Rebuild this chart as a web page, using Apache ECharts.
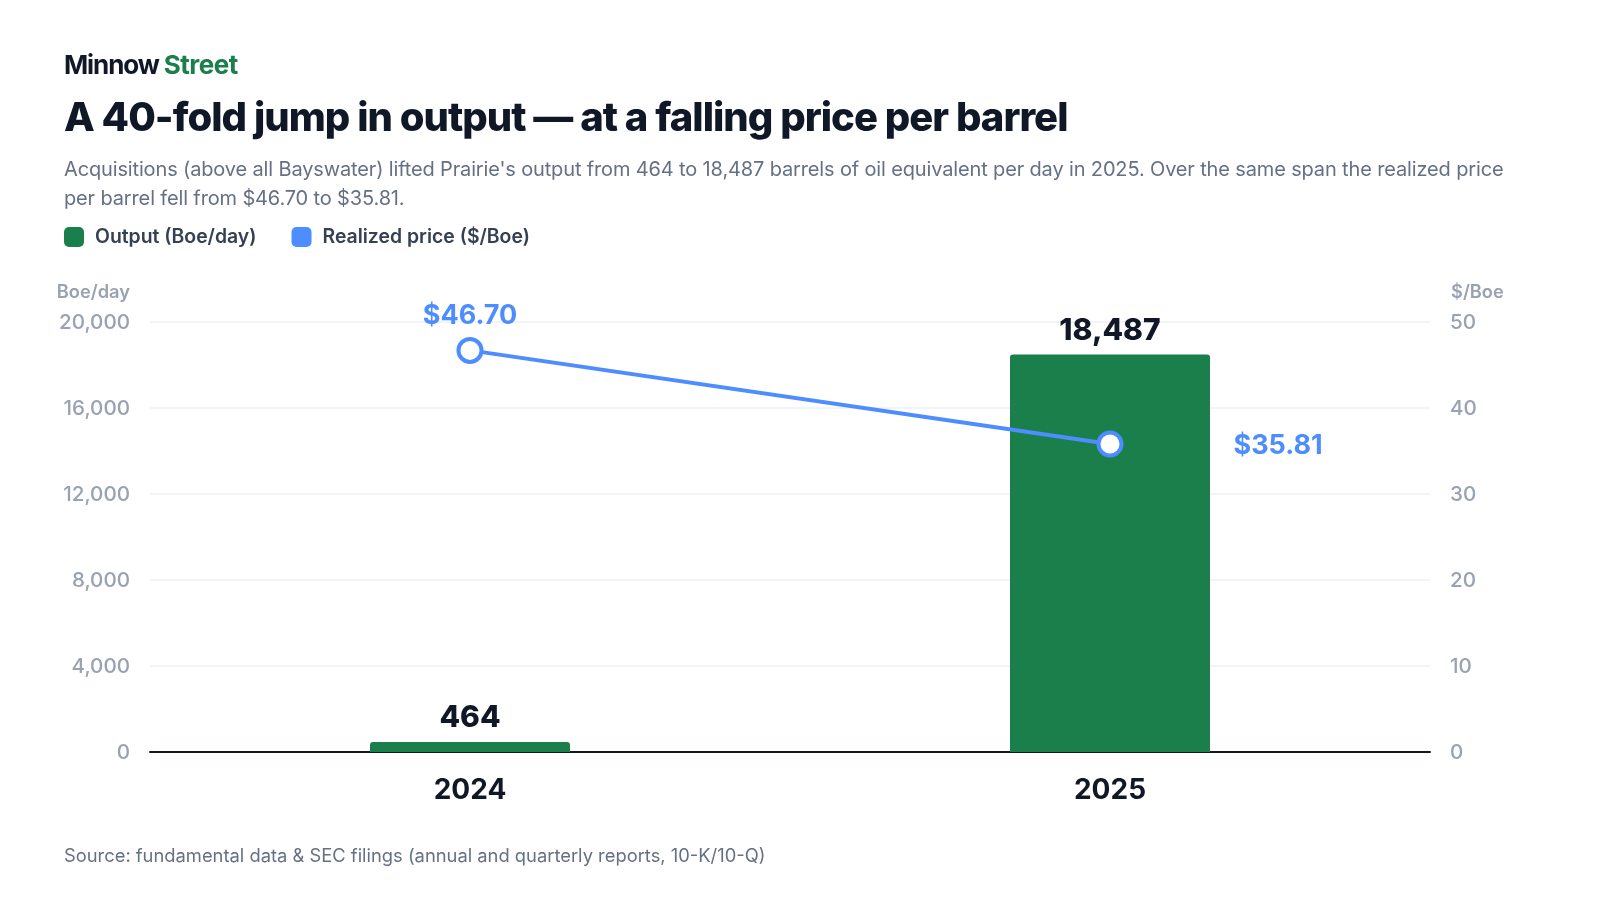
<!DOCTYPE html>
<html><head><meta charset="utf-8">
<script src="https://cdn.jsdelivr.net/npm/echarts@6/dist/echarts.min.js"></script>
<style>
html,body{margin:0;padding:0;background:#fff;width:1600px;height:900px;overflow:hidden;font-family:Inter,sans-serif}
#chart{position:absolute;left:0;top:0;width:1600px;height:900px}
.t{position:absolute;left:64px;white-space:nowrap}
#brand{top:49px;font-size:26px;font-weight:700;letter-spacing:-1.1px;line-height:32px;color:#101828}
#brand span{color:#1a7f4b;letter-spacing:-0.5px}
#title{top:92px;font-size:40px;font-weight:800;letter-spacing:-0.97px;line-height:50px;color:#101828}
#sub{top:155px;width:1460px;white-space:normal;font-size:20px;letter-spacing:-0.145px;line-height:29px;color:#667085}
</style></head><body>
<div id="chart"></div>
<div class="t" id="brand">Minnow <span>Street</span></div>
<div class="t" id="title">A 40-fold jump in output — at a falling price per barrel</div>
<div class="t" id="sub">Acquisitions (above all Bayswater) lifted Prairie's output from 464 to 18,487 barrels of oil equivalent per day in 2025. Over the same span the realized price per barrel fell from $46.70 to $35.81.</div>
<script>
const categories = ['2024', '2025'];
const output = [464, 18487];
const price = [46.70, 35.81];
const outputName = 'Output (Boe/day)';
const priceName = 'Realized price ($/Boe)';
const sourceText = 'Source: fundamental data & SEC filings (annual and quarterly reports, 10-K/10-Q)';
const GREEN = '#1a7f4b', BLUE = '#4d8dff', INK = '#101828', MUTED = '#98a2b3';
const font = 'Inter';
const tickRich = {n: {color: MUTED, fontFamily: font, fontSize: 20.6, fontWeight: 500, padding: [2, 0, 0, 0]}};
const chart = echarts.init(document.getElementById('chart'));
chart.setOption({
  animation: false,
  textStyle: {fontFamily: font},
  legend: {
    left: 64, top: 227, padding: 0, itemWidth: 20, itemHeight: 20, itemGap: 35,
    icon: 'roundRect',
    textStyle: {fontFamily: font, fontSize: 19.4, fontWeight: 600, color: '#344054', padding: [0, 0, 0, 6]},
    data: [
      {name: outputName, itemStyle: {color: GREEN, borderWidth: 0}},
      {name: priceName, itemStyle: {color: BLUE, borderWidth: 0}}
    ]
  },
  graphic: [{
    type: 'text', left: 64, top: 847,
    style: {text: sourceText, fontFamily: font, fontSize: 18.35, fill: '#667085'}
  }],
  grid: {left: 150, right: 170, top: 322, bottom: 148, containLabel: false},
  xAxis: {
    type: 'category', data: categories,
    axisLine: {lineStyle: {color: INK, width: 2}},
    axisTick: {show: false},
    axisLabel: {color: INK, fontFamily: font, fontSize: 28, fontWeight: 700, margin: 25}
  },
  yAxis: [{
    type: 'value', min: 0, max: 20000, interval: 4000,
    name: 'Boe/day', nameLocation: 'end', nameGap: 20,
    nameTextStyle: {color: MUTED, fontFamily: font, fontSize: 18.3, fontWeight: 600, align: 'right', padding: [0, 20, 0, 0]},
    axisLine: {show: false}, axisTick: {show: false},
    axisLabel: {margin: 20, rich: tickRich, formatter: v => '{n|' + v.toLocaleString('en-US') + '}'},
    splitLine: {lineStyle: {color: '#f2f4f7', width: 2}}
  }, {
    type: 'value', min: 0, max: 50, interval: 10,
    name: '$/Boe', nameLocation: 'end', nameGap: 20,
    nameTextStyle: {color: MUTED, fontFamily: font, fontSize: 18.3, fontWeight: 600, align: 'left', padding: [0, 0, 0, 21]},
    axisLine: {show: false}, axisTick: {show: false},
    axisLabel: {margin: 20, rich: tickRich, formatter: v => '{n|' + v + '}'},
    splitLine: {show: false}
  }],
  series: [{
    name: outputName, type: 'bar', yAxisIndex: 0, data: output, barWidth: 200,
    itemStyle: {color: GREEN, borderRadius: [3, 3, 0, 0]},
    label: {show: true, position: 'top', distance: 9, color: INK, fontFamily: font, fontSize: 30, fontWeight: 800,
      formatter: p => p.value.toLocaleString('en-US')}
  }, {
    name: priceName, type: 'line', yAxisIndex: 1, z: 5,
    lineStyle: {color: BLUE, width: 4},
    itemStyle: {color: '#fff', borderColor: BLUE, borderWidth: 4},
    symbol: 'circle', symbolSize: 23,
    label: {show: true, color: BLUE, fontFamily: font, fontSize: 27, fontWeight: 700,
      formatter: p => '$' + p.value.toFixed(2)},
    data: [
      {value: price[0], label: {position: 'top', distance: 8}},
      {value: price[1], label: {position: 'right', distance: 110, offset: [0, 2]}}
    ]
  }]
});
</script></body></html>
